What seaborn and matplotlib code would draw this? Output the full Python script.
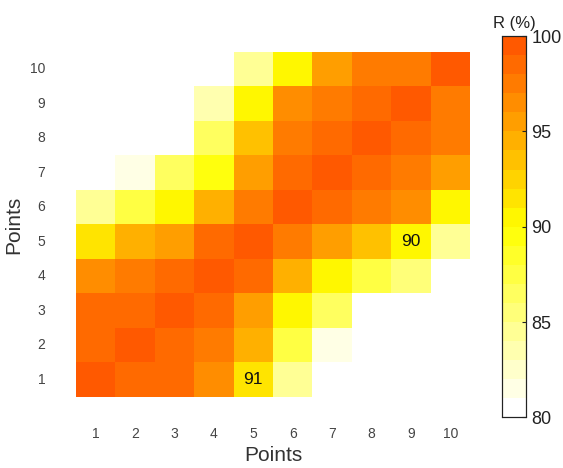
import numpy as np
import pandas as pd
import matplotlib
matplotlib.use("Agg")
import matplotlib.pyplot as plt
from matplotlib.colors import LinearSegmentedColormap, ListedColormap
import seaborn as sns

plt.rcParams["font.family"] = ["Liberation Sans", "DejaVu Sans"]

nan = np.nan
cols = [1, 2, 3, 4, 5, 6, 7, 8, 9, 10]
rows = [10, 9, 8, 7, 6, 5, 4, 3, 2, 1]

row10 = [nan, nan, nan, nan, 84.5, 90.2, 95.5, 97.2, 97.2, 99.2]
row9 = [nan, nan, nan, 83.5, 90.2, 96.5, 97.3, 98.2, 99.3, 97.3]
row8 = [nan, nan, nan, 86.5, 93.3, 97.2, 98.2, 99.4, 98.2, 97.3]
row7 = [nan, 81.5, 86.2, 89.6, 95.4, 98.2, 99.3, 98.2, 97.2, 95.4]
row6 = [84.5, 87.2, 90.2, 94.3, 97.2, 99.4, 98.2, 97.2, 96.4, 90.3]
row5 = [91.6, 94.2, 95.3, 98.2, 99.4, 97.2, 95.5, 93.3, 90.2, 84.3]
row4 = [96.4, 97.2, 98.2, 99.1, 98.2, 94.4, 90.2, 87.2, 85.3, nan]
row3 = [98.2, 98.2, 99.3, 98.3, 95.5, 90.2, 86.3, nan, nan, nan]
row2 = [98.2, 99.4, 98.2, 97.2, 94.4, 87.2, 81.5, nan, nan, nan]
row1 = [99.4, 98.2, 98.2, 96.4, 91.3, 84.8, nan, nan, nan, nan]

labels = {(1, 5): "91", (5, 9): "90"}

data = pd.DataFrame([row10, row9, row8, row7, row6, row5, row4, row3, row2, row1],
                    index=rows, columns=cols)
annot = pd.DataFrame("", index=rows, columns=cols)
for (r, c), t in labels.items():
    annot.loc[r, c] = t

base = LinearSegmentedColormap.from_list(
    "wyo", [(0.0, (1, 1, 1)), (0.5, (1, 1, 0)), (1.0, (1, 0.35, 0))])
cmap = ListedColormap([base(i / 19) for i in range(20)])

fig = plt.figure(figsize=(5.63, 4.68), dpi=100)
ax = fig.add_axes([0.135, 0.152, 0.700, 0.737])
cax = fig.add_axes([0.892, 0.108, 0.043, 0.815])

sns.heatmap(data, ax=ax, cbar_ax=cax, cmap=cmap, vmin=80, vmax=100,
            annot=annot, fmt="", annot_kws={"fontsize": 12.5, "color": "#111111"},
            linewidths=0, square=False)

ax.tick_params(axis="both", length=0, labelsize=10, colors="#444444")
ax.tick_params(axis="x", pad=22)
ax.tick_params(axis="y", pad=22)
ax.set_yticklabels([str(r) for r in rows], rotation=0)
ax.set_xticklabels([str(c) for c in cols], rotation=0)
ax.set_xlabel("Points", fontsize=15, color="#333333", labelpad=3)
ax.set_ylabel("Points", fontsize=15, color="#333333", labelpad=5)

cax.set_yticks([80, 85, 90, 95, 100])
cax.tick_params(direction="in", length=3, labelsize=13, colors="#222222", width=0.8)
for s in cax.spines.values():
    s.set_visible(True)
    s.set_color("#222222")
    s.set_linewidth(0.8)
cax.set_title("R (%)", fontsize=12, color="#222222", pad=6)

fig.savefig("out.png", dpi=100)
